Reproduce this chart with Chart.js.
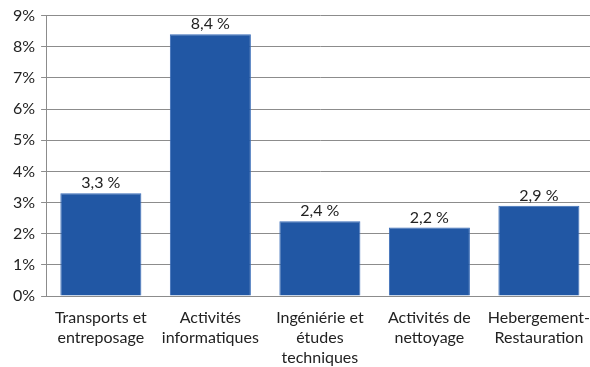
<!DOCTYPE html>
<html>
<head>
<meta charset="utf-8">
<script src="https://cdn.jsdelivr.net/npm/chart.js@4/dist/chart.umd.min.js"></script>
<style>
html,body{margin:0;padding:0;background:#fff;overflow:hidden;}
#box{width:594px;height:367px;}
</style>
</head>
<body>
<div id="box"><canvas id="canvas"></canvas></div>
<script>
const categories=[
    ["Transports et","entreposage"],
    ["Activités","informatiques"],
    ["Ingéniérie et","études","techniques"],
    ["Activités de","nettoyage"],
    ["Hebergement-","Restauration"]
];
const values=[3.3,8.4,2.4,2.2,2.9];
const yTicks=[0,1,2,3,4,5,6,7,8,9];

const FONT="Lato, 'Open Sans', sans-serif";

// value labels above each bar, french decimal comma
const barLabels={
    id:"barLabels",
    afterDatasetsDraw(chart){
        const ctx=chart.ctx;
        const meta=chart.getDatasetMeta(0);
        ctx.save();
        ctx.font="16px "+FONT;
        ctx.fillStyle="#222";
        ctx.textAlign="center";
        ctx.textBaseline="bottom";
        meta.data.forEach((bar,i)=>{
            const txt=values[i].toFixed(1).replace(".",",")+" %";
            ctx.fillText(txt,bar.x,bar.y-2);
        });
        ctx.restore();
    }
};

new Chart(document.getElementById("canvas"),{
    type:"bar",
    data:{
        labels:categories,
        datasets:[{
            data:values,
            backgroundColor:"#2157A4",
            borderColor:"#3A6DB8",
            borderWidth:1,
            barPercentage:0.74,
            categoryPercentage:1
        }]
    },
    options:{
        responsive:true,
        maintainAspectRatio:false,
        animation:false,
        layout:{
            padding:{top:6,right:0,left:7,bottom:0}
        },
        plugins:{
            legend:{display:false},
            tooltip:{enabled:false}
        },
        scales:{
            y:{
                min:0,
                max:9,
                afterBuildTicks(axis){
                    axis.ticks=yTicks.map(v=>({value:v}));
                },
                ticks:{
                    color:"#222",
                    font:{family:FONT,size:16},
                    padding:6,
                    callback:v=>v+"%"
                },
                grid:{
                    color:"#8c8c8c",
                    lineWidth:1,
                    tickLength:5
                },
                border:{color:"#8c8c8c"}
            },
            x:{
                afterFit(axis){
                    axis.height=71;
                },
                ticks:{
                    color:"#222",
                    font:{family:FONT,size:16,lineHeight:1.25},
                    padding:4,
                    maxRotation:0,
                    autoSkip:false
                },
                grid:{display:false,drawTicks:true,tickLength:8},
                border:{color:"#8c8c8c"}
            }
        }
    },
    plugins:[barLabels]
});
</script>
</body>
</html>
